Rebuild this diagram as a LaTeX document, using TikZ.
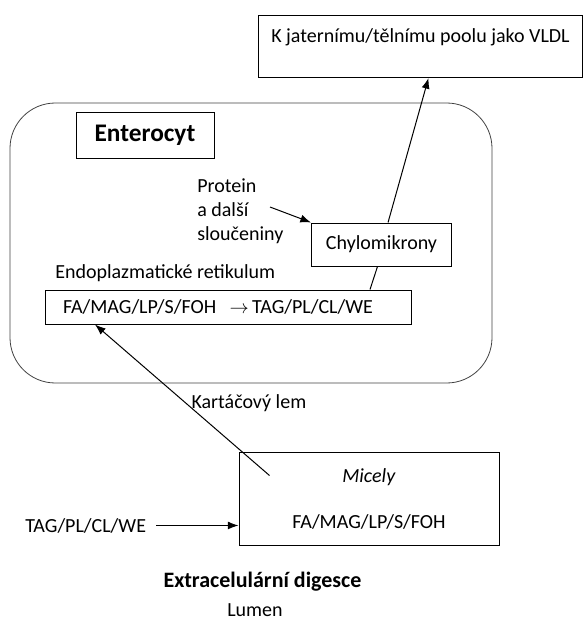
\documentclass[tikz,border=0pt]{standalone}
\usepackage{fontspec}
\setmainfont{Carlito}
\usetikzlibrary{arrows.meta,positioning}

\begin{document}
\begin{tikzpicture}[x=0.75pt,y=-0.75pt,
    box/.style={rectangle,draw,line width=0.75pt,align=center,font=\fontsize{15}{18}\selectfont},
    txt/.style={inner sep=0pt,align=left,font=\fontsize{15}{18}\selectfont},
    arrow/.style={-{Latex[length=8pt,width=6pt]},line width=0.75pt}
]
    \useasboundingbox (0,0) rectangle (584,621);

    % Target: liver / body pool
    \node[box,anchor=north west,minimum width=243pt,
          text height=15pt,text depth=21.5pt,inner ysep=5pt] (vldl) at (258,15)
          {K jaternímu/tělnímu poolu jako VLDL};

    % The cell
    \node[draw,line width=0.6pt,draw=black!75,rounded corners=34pt,minimum width=361.5pt,minimum height=210pt] (cell) at (251,243) {};
    \node[box,minimum width=103.5pt,minimum height=34.5pt,font=\fontsize{19}{22}\selectfont\bfseries] (entero) at (145,135) {Enterocyt};

    % Assembly of chylomicrons
    \node[txt,anchor=north west] (protein) at (197,178) {Protein\\a další\\sloučeniny};
    \coordinate (pin) at (270,207);
    \node[box,minimum width=105pt,minimum height=32.25pt] (chylo) at (381.5,244.5) {Chylomikrony};
    \draw[arrow] (pin) -- (chylo.north west);

    % Endoplasmic reticulum
    \node[txt,anchor=base west] (ertitle) at (55,278) {Endoplazmatické retikulum};
    \node[box,align=left,text width=247.5pt,inner xsep=13.5pt,minimum height=25.5pt] (er) at (228,307)
        {FA/MAG/LP/S/FOH\ \ $\rightarrow$\,TAG/PL/CL/WE};
    \draw[line width=0.75pt] ([xshift=106.5pt]er.north) -- ([xshift=-3pt]chylo.south);
    \draw[arrow] ([xshift=4.9pt]chylo.north) -- ([xshift=6pt]vldl.south);

    % Lumen side
    \node[box,minimum width=195pt,minimum height=69.75pt] (micely) at (369,498.5)
        {\textit{Micely}\\[16.5pt]FA/MAG/LP/S/FOH};
    \draw[arrow] ([xshift=23.25pt,yshift=-18pt]micely.north west) -- ([xshift=-99.75pt]er.south)
        node[pos=0.48,right=4pt,txt] (brush) {Kartáčový lem};

    \node[txt,anchor=base west] (tag) at (25,532) {TAG/PL/CL/WE};
    \draw[arrow] ([xshift=7.5pt]tag.east) -- (tag.east -| micely.west);

    \node[txt,anchor=base,font=\fontsize{16.5}{20}\selectfont\bfseries] (extra) at (262.5,587) {Extracelulární digesce};
    \node[txt,anchor=base] (lumen) at (255,616) {Lumen};
\end{tikzpicture}
\end{document}
